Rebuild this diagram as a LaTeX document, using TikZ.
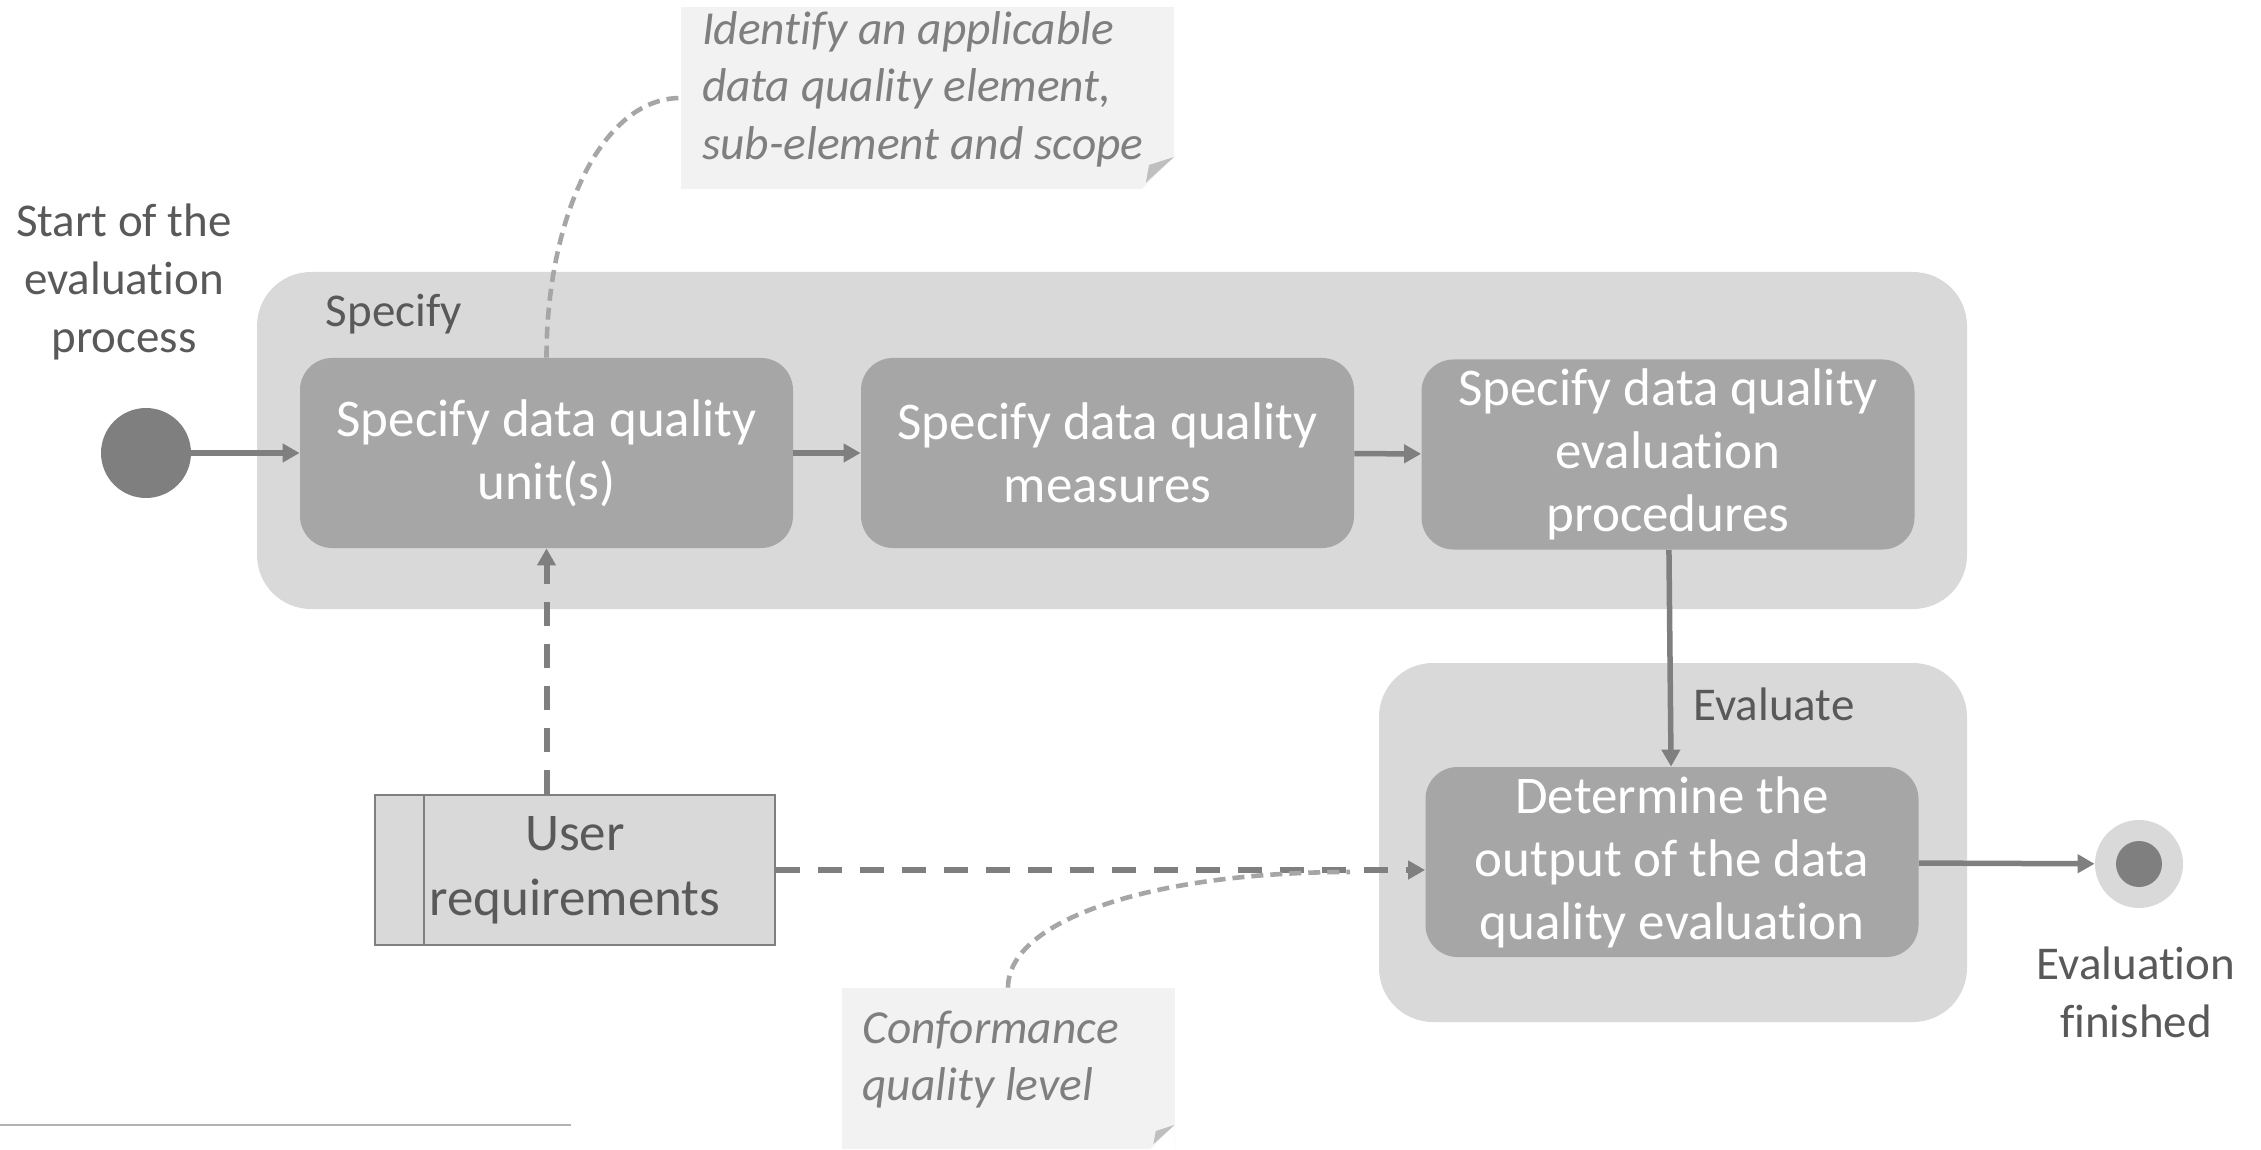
\documentclass[tikz,border=0pt]{standalone}
\usepackage{fontspec}
\setmainfont[Ligatures=NoCommon]{Carlito}
\usetikzlibrary{arrows.meta}
\definecolor{boxgray}{HTML}{A6A6A6}
\definecolor{groupgray}{HTML}{D9D9D9}
\definecolor{linegray}{HTML}{7F7F7F}
\definecolor{textgray}{HTML}{595959}
\definecolor{notegray}{HTML}{F2F2F2}
\definecolor{foldgray}{HTML}{BFBFBF}

\begin{document}
\begin{tikzpicture}[x=0.5pt,y=-0.5pt,
    task/.style={fill=boxgray,rounded corners=16pt,minimum width=246.5pt,minimum height=95pt,
        inner sep=0pt,text=white,align=center,font=\fontsize{26.5}{31.5}\selectfont},
    group/.style={fill=groupgray,rounded corners=27pt},
    lbl/.style={text=textgray,align=center,font=\fontsize{23.5}{29}\selectfont},
    notebox/.style={fill=notegray,inner sep=0pt,path picture={
        \fill[white] (path picture bounding box.south east) -- ++(0pt,#1) -- ++(-#1,-#1) -- cycle;
        \fill[foldgray] ([yshift=#1]path picture bounding box.south east)
            -- ([xshift=-0.88*#1,yshift=0.2*#1]path picture bounding box.south east)
            -- ([xshift=-0.78*#1,yshift=0.75*#1]path picture bounding box.south east) -- cycle;}},
    notetext/.style={text=linegray,align=left,inner sep=0pt,anchor=west,
        font=\fontsize{23.7}{28.75}\selectfont\itshape},
    flow/.style={draw=linegray,line width=2.75pt,-{Triangle[length=8.5pt,width=9pt]}},
    reqflow/.style={flow,line width=3pt,dash pattern=on 12pt off 9pt},
    noteline/.style={draw=boxgray,line width=2.3pt,dash pattern=on 6pt off 3.5pt}]
    \useasboundingbox (0,0) rectangle (2261,1150);

    % swimlane groups
    \fill[group] (257,272) rectangle (1967,609);
    \fill[group] (1379,663) rectangle (1967,1022);
    \node[lbl] (speclbl) at (394,314) {Specify};
    \node[lbl] (evallbl) at (1774,704) {Evaluate};

    % start and end
    \node[circle,fill=linegray,minimum size=45pt,inner sep=0pt] (start) at (146,453) {};
    \node[lbl] (startlbl) at (124,282) {Start of the\\evaluation\\process};
    \node[circle,fill=groupgray,minimum size=44pt,inner sep=0pt] (finish) at (2139,864) {};
    \fill[linegray] (finish) circle (11.5pt);
    \node[lbl] (finishlbl) at (2136,992) {Evaluation\\finished};

    % activities
    \node[task] (spec1) at (546.5,453) {Specify data quality\\unit(s)};
    \node[task] (spec2) at (1107.5,453) {Specify data quality\\measures};
    \node[task] (spec3) at (1668,454.5) {Specify data quality\\evaluation\\procedures};
    \node[task] (evalout) at (1672,862) {Determine the\\output of the data\\quality evaluation};

    % user requirements
    \node[fill=groupgray,draw=linegray,line width=1pt,minimum width=200pt,minimum height=75pt,
        text=textgray,align=center,font=\fontsize{26.5}{32.5}\selectfont] (ureq) at (575,870)
        {User\\requirements};
    \draw[linegray,line width=1pt] ([xshift=25pt]ureq.north west) -- ([xshift=25pt]ureq.south west);

    % notes
    \node[notebox=16pt,minimum width=246.5pt,minimum height=91pt] (note1) at (927.5,98) {};
    \node[notetext] (note1txt) at ([xshift=10.5pt,yshift=4.5pt]note1.west)
        {Identify an applicable\\data quality element,\\sub-element and scope};
    \node[notebox=12pt,minimum width=166.5pt,minimum height=80.5pt] (note2) at (1008,1068.5) {};
    \node[notetext] (note2txt) at ([xshift=10.5pt,yshift=4.5pt]note2.west)
        {Conformance\\quality level};

    % connectors
    \draw[flow] (start) -- (spec1);
    \draw[flow] (spec1) -- (spec2);
    \draw[flow] (spec2) -- (spec3);
    \draw[flow] (spec3) -- (evalout);
    \draw[flow] (evalout) -- (finish);
    \draw[reqflow] (spec1.south |- ureq.north) -- (spec1);
    \draw[reqflow] (ureq) -- (ureq -| evalout.west);
    \coordinate (merge) at (1350,872);
    \draw[noteline] (spec1.north) .. controls +(0,-138) and +(-80,0) .. (note1.west);
    \draw[noteline] (note2.north) .. controls +(0,-67) and +(-200,0) .. (merge);

    \draw[black!30,line width=1pt] (0,1125) -- (571,1125);
\end{tikzpicture}
\end{document}
